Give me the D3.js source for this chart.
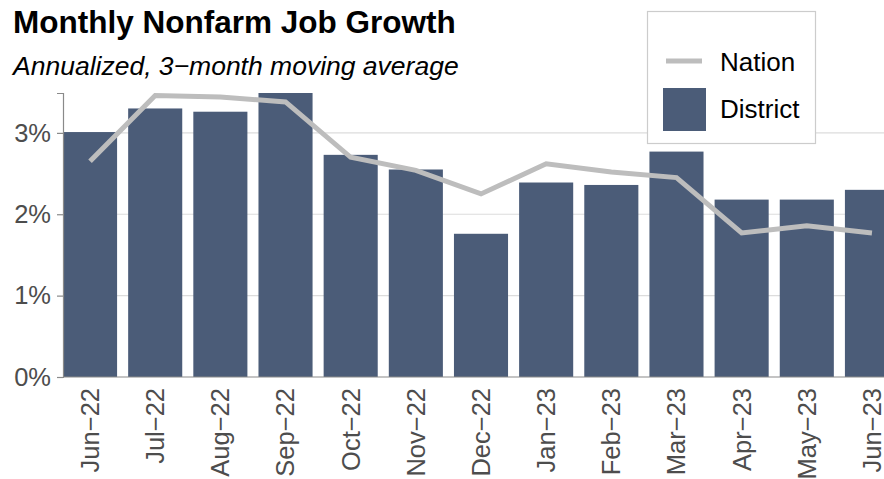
<!DOCTYPE html>
<html>
<head>
<meta charset="utf-8">
<title>Monthly Nonfarm Job Growth</title>
<script src="https://cdn.jsdelivr.net/npm/d3@7"></script>
<style>
  body { margin: 0; background: #fff; }
  text { font-family: "Liberation Sans", Arial, sans-serif; }
</style>
</head>
<body>
<script>
// data
var months = ["Jun\u221222", "Jul\u221222", "Aug\u221222", "Sep\u221222", "Oct\u221222", "Nov\u221222",
              "Dec\u221222", "Jan\u221223", "Feb\u221223", "Mar\u221223", "Apr\u221223", "May\u221223", "Jun\u221223"];
var district = [3.01, 3.30, 3.26, 3.49, 2.73, 2.55, 1.76, 2.39, 2.36, 2.77, 2.18, 2.18, 2.30];
var nation   = [2.65, 3.46, 3.44, 3.38, 2.70, 2.54, 2.25, 2.62, 2.52, 2.45, 1.77, 1.86, 1.77];
var yTicks = [0, 1, 2, 3];

var width = 884, height = 479;
var barColor = "#4b5c78", lineColor = "#bdbdbd";

var svg = d3.select("body").append("svg")
    .attr("width", width)
    .attr("height", height);

var x = d3.scaleBand()
    .domain(months)
    .range([63, 899])
    .paddingInner(0.17)
    .paddingOuter(0);

var y = d3.scaleLinear()
    .domain([0, d3.max(district)])
    .range([377, 93]);

// gridlines
svg.append("g")
    .selectAll("line")
    .data(yTicks.slice(1))
    .enter()
    .append("line")
    .attr("x1", 63).attr("x2", width)
    .attr("y1", function(d) { return y(d); })
    .attr("y2", function(d) { return y(d); })
    .attr("stroke", "#dcdcdc")
    .attr("stroke-width", 1.2);

// bars
svg.append("g")
    .selectAll("rect")
    .data(district)
    .enter()
    .append("rect")
    .attr("x", function(d, i) { return x(months[i]); })
    .attr("y", function(d) { return y(d); })
    .attr("width", x.bandwidth())
    .attr("height", function(d) { return y(0) - y(d); })
    .attr("fill", barColor);

// nation line
var line = d3.line()
    .x(function(d, i) { return x(months[i]) + x.bandwidth() / 2; })
    .y(function(d) { return y(d); });

svg.append("path")
    .datum(nation)
    .attr("d", line)
    .attr("fill", "none")
    .attr("stroke", lineColor)
    .attr("stroke-width", 5);

// y axis
var yAxis = svg.append("g")
    .attr("transform", "translate(63,0)")
    .call(d3.axisLeft(y).tickValues(yTicks).tickSize(6).tickPadding(6)
        .tickFormat(function(d) { return d + "%"; }));
yAxis.select(".domain").attr("stroke", "#8a8a8a").attr("stroke-width", 1.2);
yAxis.selectAll(".tick line").attr("stroke", "#8a8a8a").attr("stroke-width", 1.2);
yAxis.selectAll(".tick text")
    .attr("font-size", 25.5)
    .attr("fill", "#4d4d4d")
    .style("font-family", "Liberation Sans, Arial, sans-serif");

// x axis
svg.append("line")
    .attr("x1", 63).attr("x2", width)
    .attr("y1", y(0)).attr("y2", y(0))
    .attr("stroke", "#8a8a8a")
    .attr("stroke-width", 1.2);

svg.append("g")
    .selectAll("text")
    .data(months)
    .enter()
    .append("text")
    .attr("transform", function(d) {
        return "translate(" + (x(d) + x.bandwidth() / 2) + ",388) rotate(-90)";
    })
    .attr("text-anchor", "end")
    .attr("dy", "0.35em")
    .attr("font-size", 25.5)
    .attr("fill", "#4d4d4d")
    .text(function(d) { return d; });

// titles
svg.append("text")
    .attr("x", 13).attr("y", 33)
    .attr("font-size", 31.5)
    .attr("font-weight", "bold")
    .attr("fill", "#000")
    .text("Monthly Nonfarm Job Growth");

svg.append("text")
    .attr("x", 13).attr("y", 75)
    .attr("font-size", 26.5)
    .attr("font-style", "italic")
    .attr("fill", "#000")
    .text("Annualized, 3\u2212month moving average");

// legend
var legend = svg.append("g");
legend.append("rect")
    .attr("x", 647.5).attr("y", 11.5)
    .attr("width", 168).attr("height", 132)
    .attr("fill", "#fff")
    .attr("stroke", "#cccccc")
    .attr("stroke-width", 1.2);
legend.append("line")
    .attr("x1", 666).attr("x2", 702)
    .attr("y1", 61).attr("y2", 61)
    .attr("stroke", lineColor)
    .attr("stroke-width", 5);
legend.append("rect")
    .attr("x", 663).attr("y", 88)
    .attr("width", 43).attr("height", 43)
    .attr("fill", barColor);
legend.append("text")
    .attr("x", 720).attr("y", 71)
    .attr("font-size", 26)
    .attr("fill", "#000")
    .text("Nation");
legend.append("text")
    .attr("x", 720).attr("y", 118)
    .attr("font-size", 26)
    .attr("fill", "#000")
    .text("District");
</script>
</body>
</html>
